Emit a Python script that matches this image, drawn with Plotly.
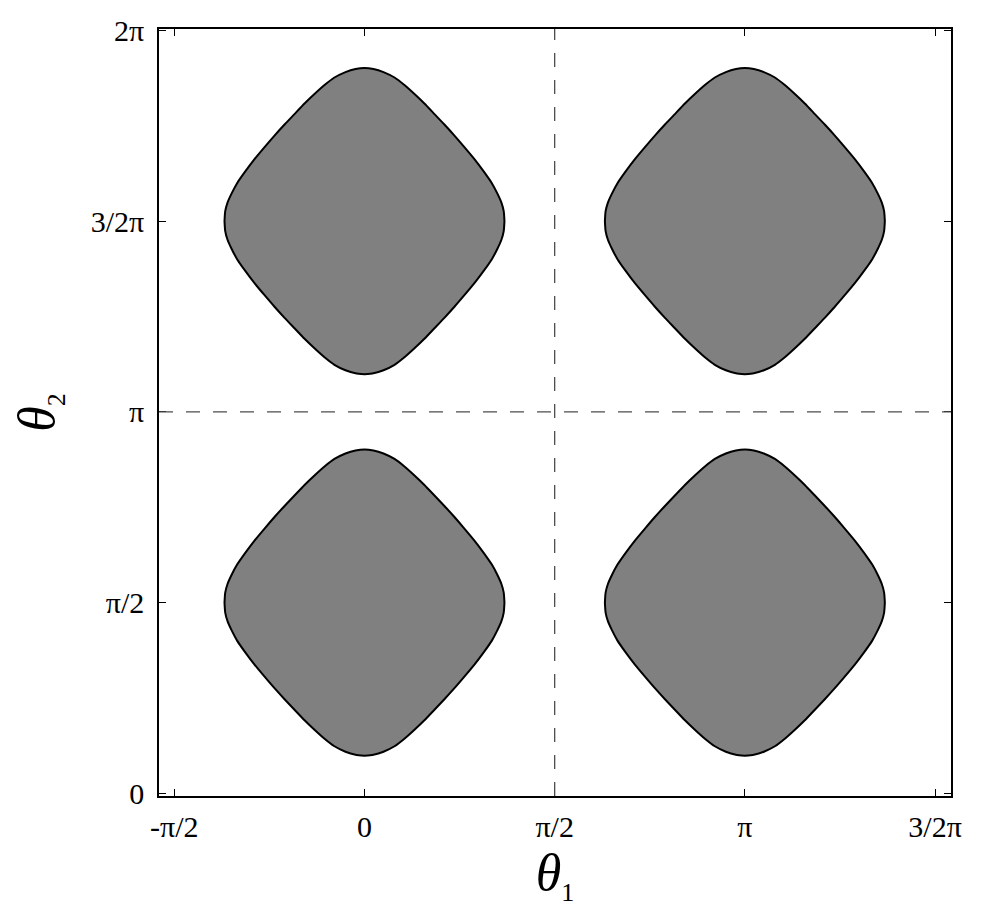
import numpy as np
import plotly.graph_objects as go

PI = np.pi

# outline of one island, upper-right quarter, offsets from its centre (radians)
quarter_dx = [0.000, 0.074, 0.157, 0.248, 0.330, 0.413, 0.495, 0.578, 0.660,
              0.743, 0.825, 0.908, 0.986, 1.052, 1.098, 1.131, 1.150, 1.156]
quarter_dy = [1.261, 1.253, 1.228, 1.183, 1.121, 1.047, 0.969, 0.882, 0.796,
              0.705, 0.610, 0.511, 0.408, 0.313, 0.227, 0.153, 0.082, 0.000]

# island centres (theta1, theta2)
centre_t1 = [0, PI, 0, PI]
centre_t2 = [PI / 2, PI / 2, 3 * PI / 2, 3 * PI / 2]

# dashed guide lines
vline_t1 = [PI / 2]
hline_t2 = [PI]

xtick_vals = [-PI / 2, 0, PI / 2, PI, 3 * PI / 2]
xtick_text = ["-π/2", "0", "π/2", "π", "3/2π"]
ytick_vals = [0, PI / 2, PI, 3 * PI / 2, 2 * PI]
ytick_text = ["0", "π/2", "π", "3/2π", "2π"]

dx = np.array(quarter_dx)
dy = np.array(quarter_dy)
# close the quarter into a full loop using the island's symmetry
loop_x = np.concatenate([dx, dx[::-1], -dx, -dx[::-1]])
loop_y = np.concatenate([dy, -dy[::-1], -dy, dy[::-1]])

fig = go.Figure()

for cx, cy in zip(centre_t1, centre_t2):
    fig.add_trace(go.Scatter(
        x=cx + loop_x, y=cy + loop_y,
        mode="lines", fill="toself", fillcolor="#808080",
        line=dict(color="black", width=2, shape="spline", smoothing=0.6),
        hoverinfo="skip", showlegend=False,
    ))

for v in vline_t1:
    fig.add_vline(x=v, line=dict(color="#4d4d4d", width=1.3, dash="14px,13px"))
for h in hline_t2:
    fig.add_hline(y=h, line=dict(color="#4d4d4d", width=1.3, dash="14px,13px"))

font = "Liberation Serif, DejaVu Serif, serif"
axis_common = dict(
    showline=True, linecolor="black", linewidth=1.5, mirror="ticks",
    ticks="inside", ticklen=7, tickwidth=1, tickcolor="black",
    showgrid=False, zeroline=False, automargin=False,
    tickfont=dict(family=font, size=30, color="black"),
)

fig.update_xaxes(
    range=[-1.697, 4.844], tickvals=xtick_vals, ticktext=xtick_text,
    ticklabelstandoff=3,
    title=dict(text="<i>θ</i><sub><span style='font-size:26px'>1</span></sub>",
               font=dict(family=font, size=52, color="black"), standoff=12),
    **axis_common,
)
fig.update_yaxes(
    range=[-0.022, 6.295], tickvals=ytick_vals, ticktext=ytick_text,
    ticklabelstandoff=7,
    title=dict(text="<i>θ</i><sub><span style='font-size:26px'>2</span></sub>",
               font=dict(family=font, size=52, color="black"), standoff=30),
    **axis_common,
)

# page body adds an 8px offset, so margins are trimmed to keep the plot in place
fig.update_layout(
    width=980, height=912,
    margin=dict(l=151, r=37, t=21, b=124),
    plot_bgcolor="white", paper_bgcolor="white",
)

fig.write_html("out.html")
